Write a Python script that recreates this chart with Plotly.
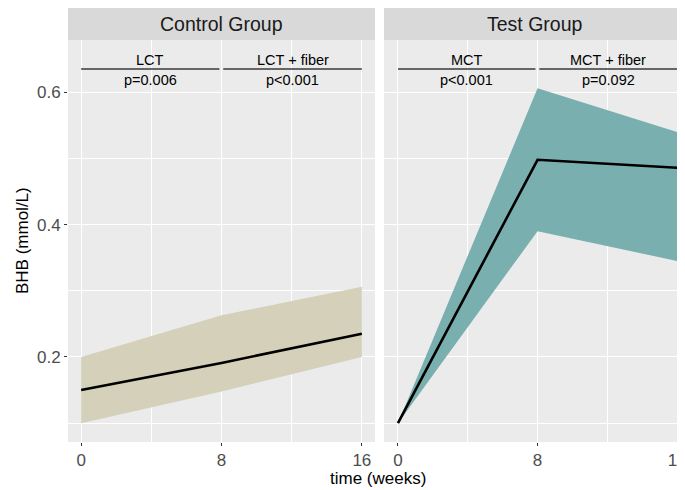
import plotly.graph_objects as go
from plotly.subplots import make_subplots

# ---- data ----
weeks = [0, 8, 16]
panels = ["Control Group", "Test Group"]
control_mean = [0.150, 0.191, 0.235]
control_lower = [0.100, 0.148, 0.200]
control_upper = [0.200, 0.263, 0.306]
test_mean = [0.100, 0.498, 0.486]
test_lower = [0.100, 0.390, 0.345]
test_upper = [0.100, 0.606, 0.540]
phase_labels = [["LCT", "LCT + fiber"], ["MCT", "MCT + fiber"]]
p_labels = [["p=0.006", "p<0.001"], ["p<0.001", "p=0.092"]]
x_ticks = [0, 8, 16]
y_ticks = [0.2, 0.4, 0.6]
y_minor = [0.1, 0.3, 0.5]
x_minor = [4, 12]

ribbon_colors = ["#D4D0BA", "#7AAFAF"]

# page body has an 8px margin, so the figure is drawn 8px smaller
OFF = 8
W, H = 685 - OFF, 490 - OFF
ml, mr, mt, mb = 68 - OFF, 0, 40 - OFF, 48
pw = W - ml - mr
ph = H - mt - mb

fig = make_subplots(rows=1, cols=2, shared_yaxes=True)
fig.update_layout(
    xaxis=dict(domain=[0, 307 / pw]),
    xaxis2=dict(domain=[(384 - 68) / pw, 1]),
)

series = [(control_lower, control_mean, control_upper), (test_lower, test_mean, test_upper)]
for i, (lo, mu, up) in enumerate(series):
    col = i + 1
    fig.add_trace(go.Scatter(x=weeks, y=lo, mode="lines", line=dict(width=0, color=ribbon_colors[i]),
                             showlegend=False, hoverinfo="skip"), row=1, col=col)
    fig.add_trace(go.Scatter(x=weeks, y=up, mode="lines", line=dict(width=0, color=ribbon_colors[i]),
                             fill="tonexty", fillcolor=ribbon_colors[i], showlegend=False,
                             hoverinfo="skip"), row=1, col=col)
    fig.add_trace(go.Scatter(x=weeks, y=mu, mode="lines", line=dict(width=2.6, color="black"),
                             showlegend=False), row=1, col=col)

axis_common = dict(
    showgrid=True, gridcolor="white", gridwidth=1.1, zeroline=False,
    ticks="outside", ticklen=3, tickcolor="#333333", tickwidth=1,
    tickfont=dict(size=17, color="#4D4D4D"), showline=False, automargin=False,
    ticklabeloverflow="allow",
)
fig.update_xaxes(**axis_common, tickvals=x_ticks,
                 minor=dict(tickvals=x_minor, showgrid=True, gridcolor="white", gridwidth=0.55, ticks=""))
fig.update_xaxes(range=[-0.75, 16.75], row=1, col=1)
fig.update_xaxes(range=[-0.8, 16.45], row=1, col=2)
fig.update_yaxes(**axis_common, tickvals=y_ticks, range=[0.0715, 0.679],
                 minor=dict(tickvals=y_minor, showgrid=True, gridcolor="white", gridwidth=0.55, ticks=""))
fig.update_yaxes(ticks="", showticklabels=False, row=1, col=2)

# strips
strip_h = 32 / ph
xrefs = ["x domain", "x2 domain"]
for i, name in enumerate(panels):
    fig.add_shape(type="rect", xref=xrefs[i], yref="paper", x0=0, x1=1, y0=1, y1=1 + strip_h,
                  fillcolor="#D9D9D9", line=dict(width=0), layer="below")
    fig.add_annotation(xref=xrefs[i], yref="paper", x=0.5, y=1 + strip_h / 2, text=name,
                       showarrow=False, font=dict(size=19.5, color="#1A1A1A"), yanchor="middle")

# phase brackets
ybar = 0.635
seg = [(0, 7.88), (8.1, 16)]
for i in range(2):
    xr = "x" if i == 0 else "x2"
    yr = "y" if i == 0 else "y2"
    for j, (a, b) in enumerate(seg):
        fig.add_shape(type="line", xref=xr, yref=yr, x0=a, x1=b, y0=ybar, y1=ybar,
                      line=dict(color="#3A3A3A", width=1.5))
        fig.add_annotation(xref=xr, yref=yr, x=(a + b) / 2, y=ybar, text=phase_labels[i][j],
                           showarrow=False, yanchor="bottom", yshift=-1,
                           font=dict(size=14.5, color="black"))
        fig.add_annotation(xref=xr, yref=yr, x=(a + b) / 2, y=ybar, text=p_labels[i][j],
                           showarrow=False, yanchor="top", yshift=-1,
                           font=dict(size=14.5, color="black"))

fig.add_annotation(xref="paper", yref="paper", x=(378 - 68) / pw, y=-(478 - 442) / ph,
                   text="time (weeks)", showarrow=False, yanchor="middle",
                   font=dict(size=17, color="black"))
fig.add_annotation(xref="paper", yref="paper", x=-(68 - 22) / pw, y=0.5,
                   text="BHB (mmol/L)", showarrow=False, textangle=-90, xanchor="center",
                   yanchor="middle", font=dict(size=17, color="black"))

fig.update_layout(
    width=W, height=H,
    margin=dict(l=ml, r=mr, t=mt, b=mb),
    paper_bgcolor="white", plot_bgcolor="#EBEBEB",
    font=dict(family="Liberation Sans, Arial, sans-serif"),
    showlegend=False,
)

fig.write_html("out.html")
